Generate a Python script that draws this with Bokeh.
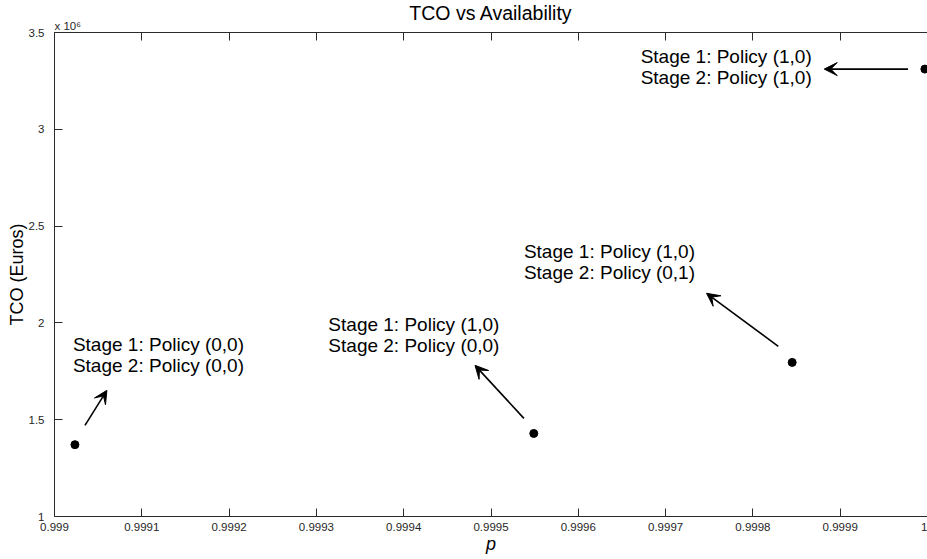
from bokeh.plotting import figure
from bokeh.models import (ColumnDataSource, FixedTicker, LinearAxis, Range1d, Title,
                          Arrow, VeeHead, CustomJSTickFormatter)
from bokeh.core.properties import value
from bokeh.embed import file_html
from bokeh.resources import INLINE

# ---- data ----
availability = [0.9990234, 0.999549, 0.999845, 0.999997]
tco_euros = [1.371e6, 1.429e6, 1.796e6, 3.311e6]

stage1_text = ["Stage 1: Policy (0,0)", "Stage 1: Policy (1,0)",
               "Stage 1: Policy (1,0)", "Stage 1: Policy (1,0)"]
stage2_text = ["Stage 2: Policy (0,0)", "Stage 2: Policy (0,0)",
               "Stage 2: Policy (0,1)", "Stage 2: Policy (1,0)"]
text_p = [0.9990211, 0.9993137, 0.9995377, 0.9996714]
text_tco = [1.8495e6, 1.9514e6, 2.3288e6, 3.3371e6]

arrow_p_start = [0.9990349, 0.9995377, 0.9998291, 0.9999777]
arrow_tco_start = [1.4705e6, 1.5067e6, 1.879e6, 3.311e6]
arrow_p_end = [0.9990600, 0.9994817, 0.9997469, 0.9998817]
arrow_tco_end = [1.6515e6, 1.7808e6, 2.153e6, 3.311e6]

x_ticks = [0.999, 0.9991, 0.9992, 0.9993, 0.9994, 0.9995, 0.9996, 0.9997, 0.9998, 0.9999, 1.0]
x_tick_labels = ["0.999", "0.9991", "0.9992", "0.9993", "0.9994", "0.9995",
                 "0.9996", "0.9997", "0.9998", "0.9999", "1"]
y_ticks = [1.0e6, 1.5e6, 2.0e6, 2.5e6, 3.0e6, 3.5e6]
y_tick_labels = ["1", "1.5", "2", "2.5", "3", "3.5"]
y_multiplier = "x 10\u2076"

FONT = "Liberation Sans"
AX = "#2b2b2b"

lookup = """
let best = 0; let d = Infinity;
for (let i = 0; i < tvals.length; i++) {
  const e = Math.abs(tvals[i] - tick);
  if (e < d) { d = e; best = i; }
}
return tlabels[best];
"""

p = figure(width=927, height=559, output_backend="svg", toolbar_location=None,
           x_range=Range1d(0.999, 1.0), y_range=Range1d(1.0e6, 3.5e6),
           title=None,
           min_border_left=54, min_border_right=0, min_border_top=32, min_border_bottom=43)
p.outline_line_color = None
p.xgrid.visible = False
p.ygrid.visible = False
p.background_fill_color = "white"
p.border_fill_color = "white"

def style_axis(ax):
    ax.axis_line_color = AX
    ax.major_tick_line_color = AX
    ax.major_tick_in = 8
    ax.major_tick_out = 0
    ax.minor_tick_line_color = None
    ax.major_label_text_font = FONT
    ax.major_label_text_font_size = "11.5px"
    ax.major_label_text_color = "#262626"
    ax.axis_label_text_font = FONT
    ax.axis_label_text_font_size = "18px"
    ax.axis_label_text_color = "black"

xb = p.xaxis[0]
xb.ticker = FixedTicker(ticks=x_ticks, minor_ticks=[])
xb.formatter = CustomJSTickFormatter(args=dict(tvals=x_ticks, tlabels=x_tick_labels), code=lookup)
style_axis(xb)
xb.axis_label = "p"
xb.axis_label_text_font_style = "italic"
xb.major_label_standoff = 6
xb.axis_label_standoff = 0

yl = p.yaxis[0]
yl.ticker = FixedTicker(ticks=y_ticks, minor_ticks=[])
yl.formatter = CustomJSTickFormatter(args=dict(tvals=y_ticks, tlabels=y_tick_labels), code=lookup)
style_axis(yl)
yl.axis_label = "TCO (Euros)"
yl.axis_label_text_font_style = "normal"
yl.major_label_standoff = 10
yl.axis_label_standoff = -1

top = LinearAxis(ticker=FixedTicker(ticks=x_ticks, minor_ticks=[]))
style_axis(top)
top.major_label_text_color = None
p.add_layout(top, "above")

sub = Title(text=y_multiplier, align="left", text_font=FONT, text_font_size="11.5px",
            text_font_style="normal", text_color="#262626", standoff=2)
p.add_layout(sub, "above")
main = Title(text="TCO vs Availability", align="center", text_font=FONT,
             text_font_size="19.5px", text_font_style="normal", text_color="black", standoff=-15)
p.add_layout(main, "above")

src = ColumnDataSource(dict(p=availability, tco=tco_euros))
p.scatter(x="p", y="tco", source=src, size=8, color="black")

arrow_src = ColumnDataSource(dict(xs=arrow_p_start, ys=arrow_tco_start,
                                  xe=arrow_p_end, ye=arrow_tco_end))
p.add_layout(Arrow(end=VeeHead(size=13, fill_color="black", line_color="black", line_width=1),
                   x_start="xs", y_start="ys", x_end="xe", y_end="ye",
                   source=arrow_src, line_width=1.6, line_color="black"))

tsrc = ColumnDataSource(dict(x=text_p, y=text_tco, s1=stage1_text, s2=stage2_text))
p.text(x="x", y="y", text="s1", source=tsrc, text_font=value(FONT), text_font_size="19px",
       text_baseline="alphabetic", text_align="left", text_color="black", y_offset=-8)
p.text(x="x", y="y", text="s2", source=tsrc, text_font=value(FONT), text_font_size="19px",
       text_baseline="alphabetic", text_align="left", text_color="black", y_offset=13)

open("out.html", "w").write(file_html(p, INLINE))
